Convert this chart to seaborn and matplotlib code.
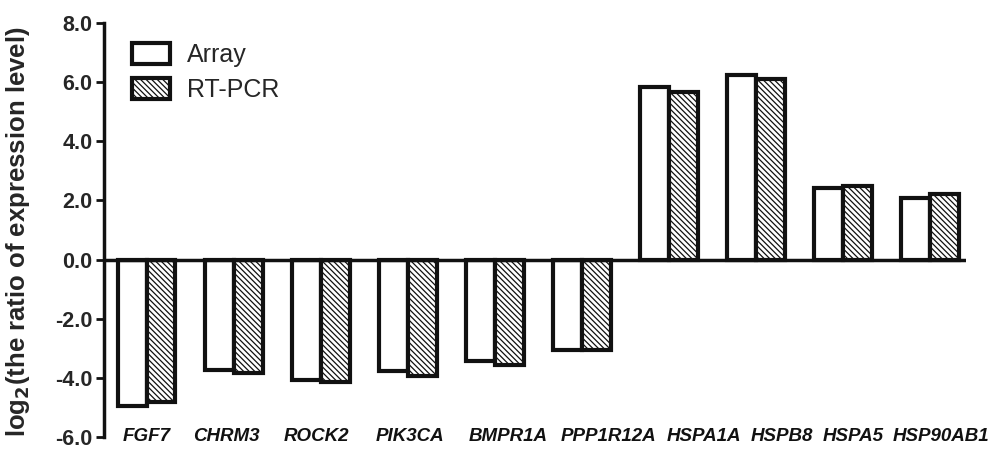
import matplotlib.pyplot as plt
import matplotlib.transforms as mtransforms
import numpy as np
import pandas as pd
import seaborn as sns
from matplotlib.patches import Patch

genes = ['FGF7', 'CHRM3', 'ROCK2', 'PIK3CA', 'BMPR1A', 'PPP1R12A',
         'HSPA1A', 'HSPB8', 'HSPA5', 'HSP90AB1']
array_vals = [-4.95, -3.72, -4.07, -3.78, -3.42, -3.05, 5.85, 6.25, 2.42, 2.08]
rtpcr_vals = [-4.83, -3.82, -4.13, -3.93, -3.56, -3.05, 5.68, 6.1, 2.5, 2.2]
methods = ['Array', 'RT-PCR']
yticks = [-6, -4, -2, 0, 2, 4, 6, 8]

# horizontal nudge of each gene label (pixels), as in the original layout
label_shift = [0, -7, -4, 2, 13, 26, 35, 26, 10, 11]

df = pd.DataFrame({
    'Gene': genes * 2,
    'Value': array_vals + rtpcr_vals,
    'Method': np.repeat(methods, len(genes)),
})

sns.set_theme(style="white")
plt.rcParams['font.family'] = ['Liberation Sans', 'DejaVu Sans']
plt.rcParams['hatch.linewidth'] = 0.9

HATCH = '\\' * 6

fig = plt.figure(figsize=(9.88, 4.55), dpi=100)
ax = fig.add_axes([0.105, 0.0396, 0.873, 0.91])

sns.barplot(data=df, x='Gene', y='Value', hue='Method', hue_order=methods,
            palette=['white', 'white'], edgecolor='#111111', linewidth=3,
            width=0.66, legend=False, ax=ax)

for bar in ax.containers[1]:
    bar.set_hatch(HATCH)

ax.axhline(0, color='#111111', lw=2.5, zorder=5)
ax.set_xlim(-0.494, 9.414)
ax.set_ylim(-6, 8)
ax.set_yticks(yticks)
ax.set_yticklabels(['{:.1f}'.format(t) for t in yticks], fontsize=15.5, fontweight='bold')
ax.set_xlabel('')
ax.set_ylabel('log$_\\mathbf{2}$(the ratio of expression level)', fontsize=18.5,
              fontweight='bold')
ax.yaxis.set_label_coords(-0.0835, 0.495)

for s in ['top', 'right', 'bottom']:
    ax.spines[s].set_visible(False)
ax.spines['left'].set_linewidth(2.5)
ax.spines['left'].set_color('#111111')
ax.tick_params(axis='y', direction='out', length=6, width=2, color='#111111', left=True, pad=2)
ax.tick_params(axis='x', length=0, labelbottom=False)

base = ax.get_xaxis_transform()
for i, (g, dx) in enumerate(zip(genes, label_shift)):
    tr = mtransforms.offset_copy(base, fig=fig, x=dx, y=0, units='dots')
    ax.text(i, 0, g, transform=tr, ha='center', va='center', fontsize=13.5,
            fontstyle='italic', fontweight='bold', color='#111111', clip_on=False)

handles = [Patch(facecolor='white', edgecolor='#111111', linewidth=3, label='Array'),
           Patch(facecolor='white', edgecolor='#111111', linewidth=3, hatch=HATCH, label='RT-PCR')]
ax.legend(handles=handles, loc='upper left', bbox_to_anchor=(0.111, 0.955),
          bbox_transform=fig.transFigure, frameon=False, fontsize=18,
          handlelength=1.5, handleheight=0.88, labelspacing=0.45, handletextpad=0.7)

fig.savefig('out.png', dpi=100)
